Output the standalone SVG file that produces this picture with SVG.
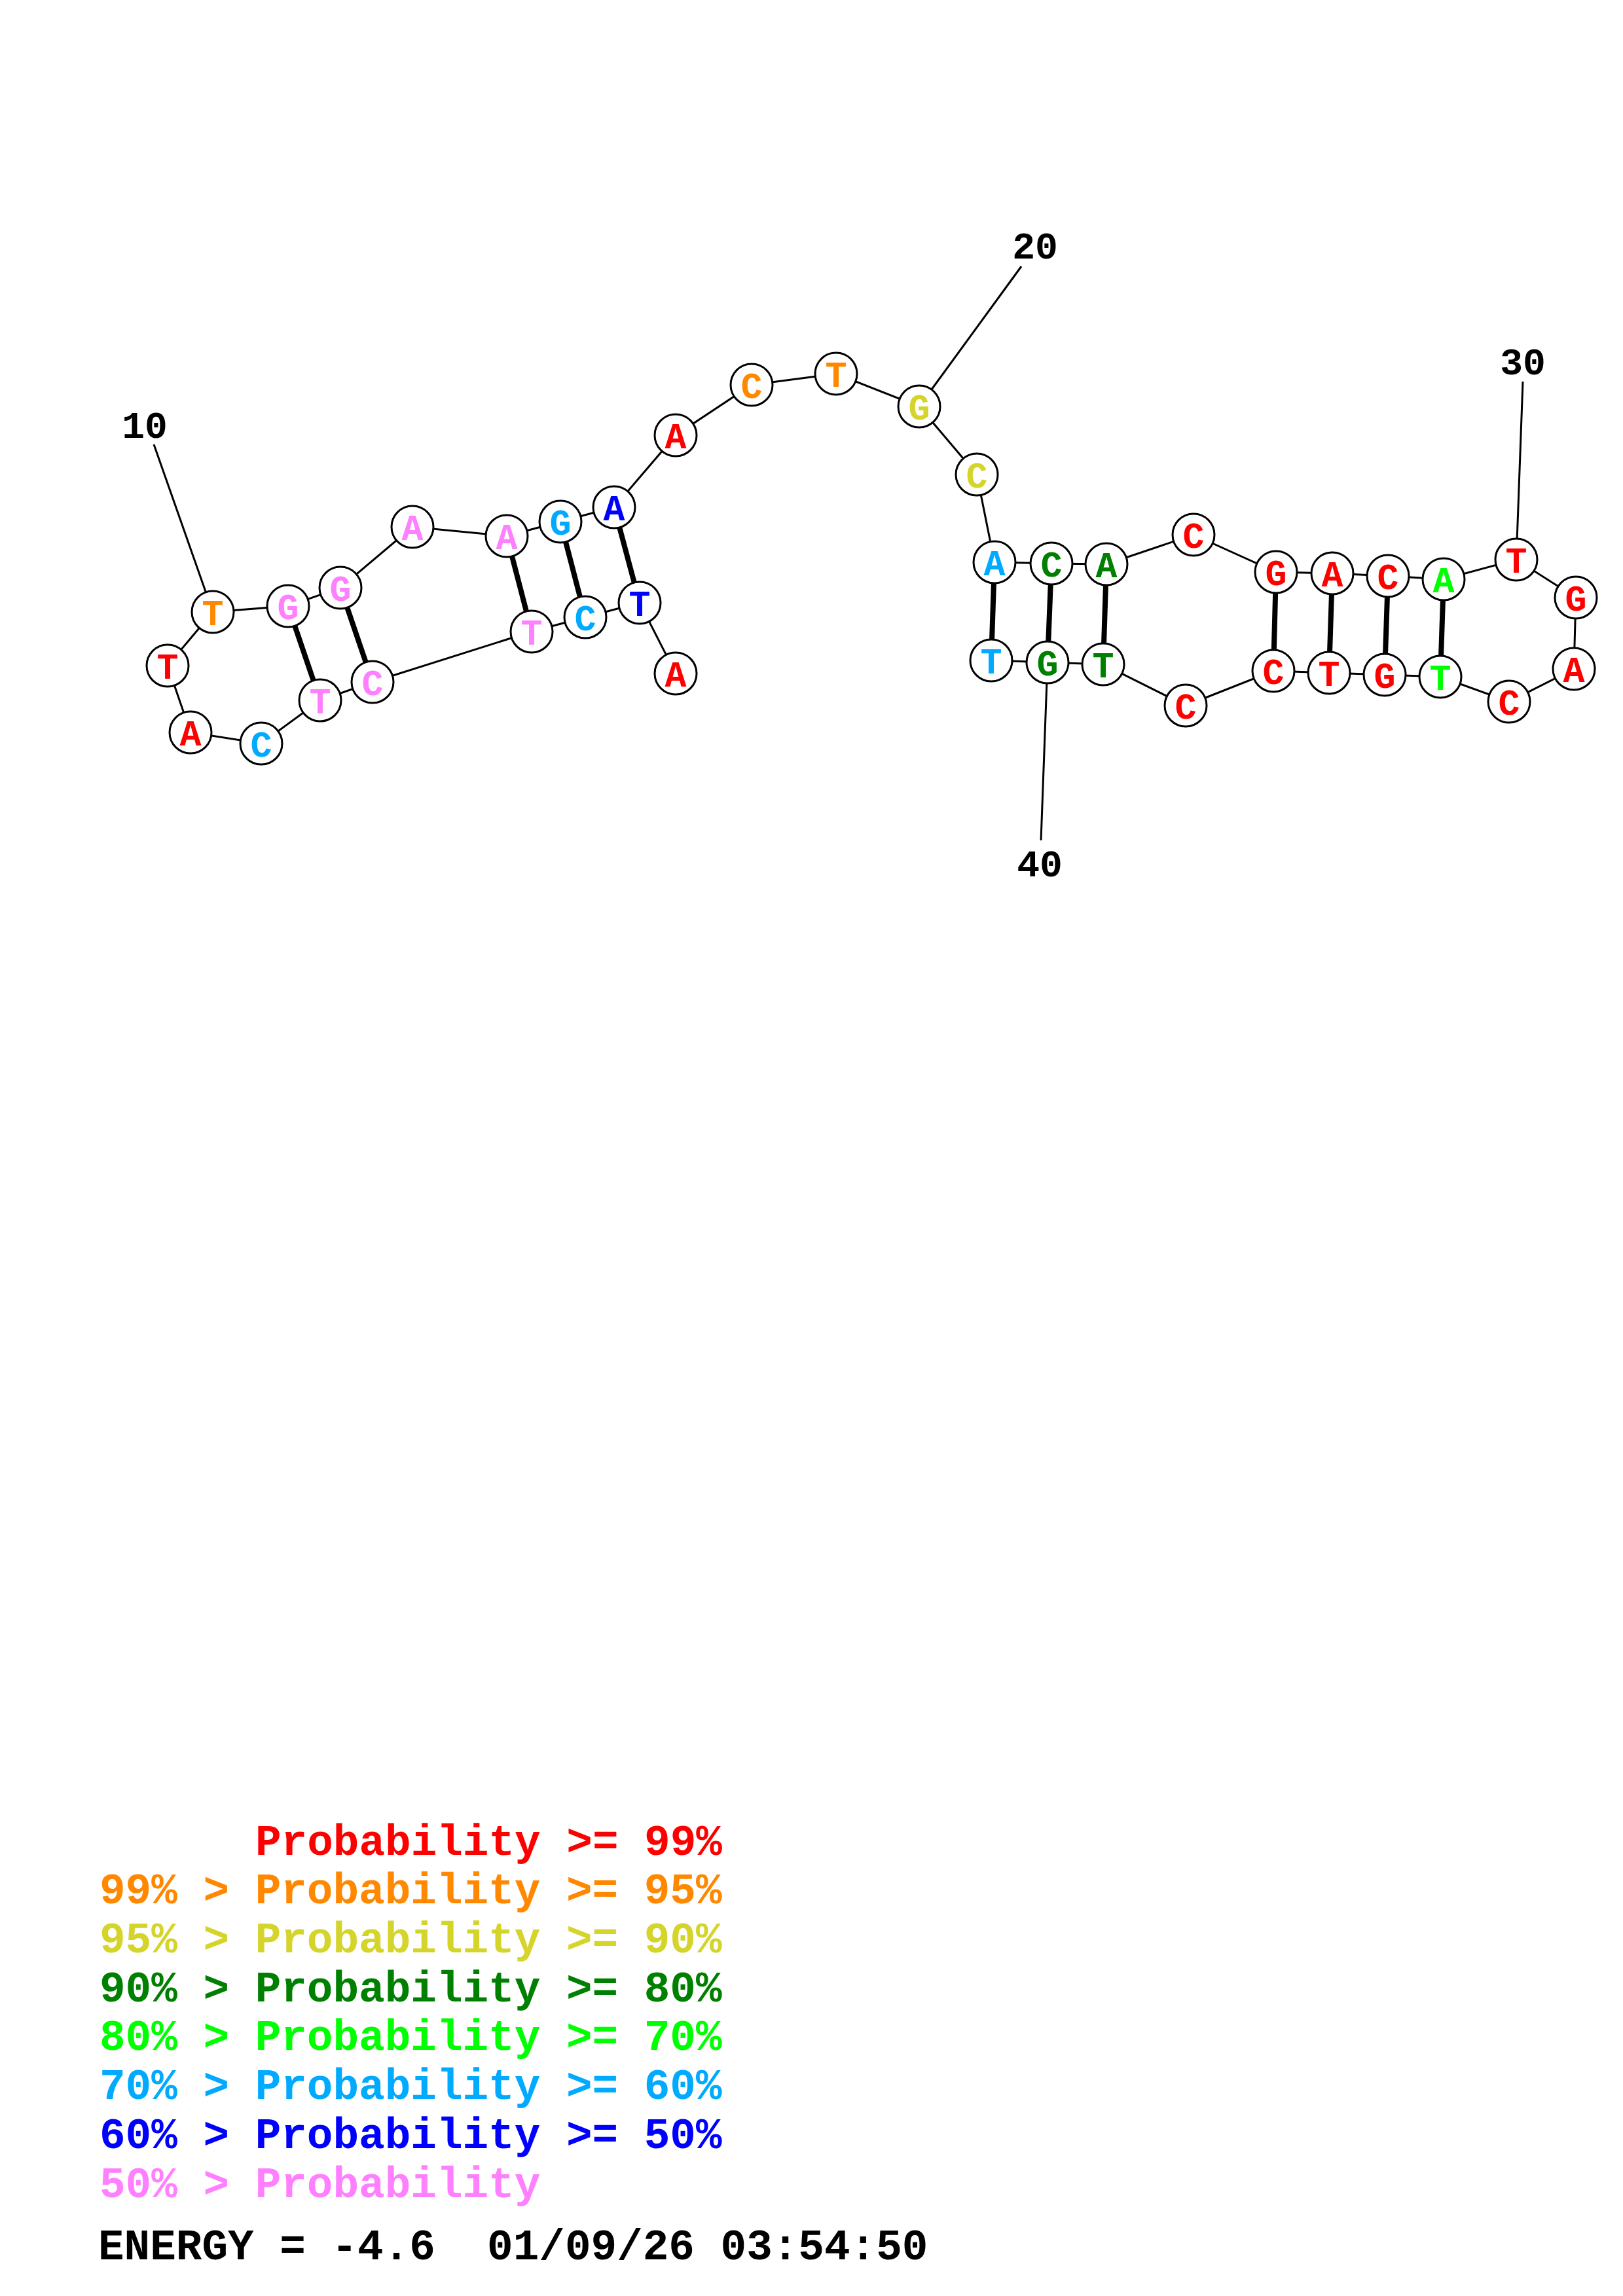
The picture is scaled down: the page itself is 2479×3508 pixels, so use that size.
<svg xmlns="http://www.w3.org/2000/svg" width="2479" height="3508" viewBox="0 0 2479 3508">
<style>
.bb{stroke:#000;stroke-width:3;fill:none}
.bp{stroke:#000;stroke-width:8;fill:none}
.nc{fill:#fff;stroke:#000;stroke-width:3}
.nt{font-family:"Liberation Mono","DejaVu Sans Mono",monospace;font-weight:bold;font-size:55px;text-anchor:middle}
.lb{font-family:"Liberation Mono","DejaVu Sans Mono",monospace;font-weight:bold;font-size:58px;text-anchor:middle;fill:#000}
.lg{font-family:"Liberation Mono","DejaVu Sans Mono",monospace;font-weight:bold;font-size:66px}
.r{fill:#ff0000}.o{fill:#ff8800}.y{fill:#d4d42a}.g{fill:#008000}.l{fill:#00ff00}.c{fill:#00aaff}.b{fill:#0000ff}.p{fill:#ff80ff}.k{fill:#000}
</style>
<rect width="2479" height="3508" fill="#fff"/>
<g id="connectors">
<polyline class="bb" points="1032,1029 977,921 894,943 812,965 569,1042 489,1070 399,1136 291,1119 256,1017 325,935 440,926 520,898 630,805 774,819 856,797 938,775 1032,665 1148,588 1277,571 1404,621 1492,725 1519,859 1606,861 1690,862 1823,817 1949,874 2035,876 2120,880 2205,885 2316,855 2407,913 2404,1022 2305,1072 2200,1034 2115,1031 2030,1028 1945,1025 1811,1078 1685,1015 1600,1012 1514,1009"/>
<line class="bp" x1="977" y1="921" x2="938" y2="775"/>
<line class="bp" x1="894" y1="943" x2="856" y2="797"/>
<line class="bp" x1="812" y1="965" x2="774" y2="819"/>
<line class="bp" x1="569" y1="1042" x2="520" y2="898"/>
<line class="bp" x1="489" y1="1070" x2="440" y2="926"/>
<line class="bp" x1="1519" y1="859" x2="1514" y2="1009"/>
<line class="bp" x1="1606" y1="861" x2="1600" y2="1012"/>
<line class="bp" x1="1690" y1="862" x2="1685" y2="1015"/>
<line class="bp" x1="1949" y1="874" x2="1945" y2="1025"/>
<line class="bp" x1="2035" y1="876" x2="2030" y2="1028"/>
<line class="bp" x1="2120" y1="880" x2="2115" y2="1031"/>
<line class="bp" x1="2205" y1="885" x2="2200" y2="1034"/>
<line class="bb" x1="235" y1="679" x2="325" y2="935"/>
<line class="bb" x1="1560" y1="407" x2="1404" y2="621"/>
<line class="bb" x1="2326" y1="583" x2="2316" y2="855"/>
<line class="bb" x1="1590" y1="1284" x2="1600" y2="1012"/>
</g>
<g id="n1"><circle class="nc" cx="1032" cy="1029" r="32"/><text class="nt r" x="1032" y="1049">A</text></g>
<g id="n2"><circle class="nc" cx="977" cy="921" r="32"/><text class="nt b" x="977" y="941">T</text></g>
<g id="n3"><circle class="nc" cx="894" cy="943" r="32"/><text class="nt c" x="894" y="963">C</text></g>
<g id="n4"><circle class="nc" cx="812" cy="965" r="32"/><text class="nt p" x="812" y="985">T</text></g>
<g id="n5"><circle class="nc" cx="569" cy="1042" r="32"/><text class="nt p" x="569" y="1062">C</text></g>
<g id="n6"><circle class="nc" cx="489" cy="1070" r="32"/><text class="nt p" x="489" y="1090">T</text></g>
<g id="n7"><circle class="nc" cx="399" cy="1136" r="32"/><text class="nt c" x="399" y="1156">C</text></g>
<g id="n8"><circle class="nc" cx="291" cy="1119" r="32"/><text class="nt r" x="291" y="1139">A</text></g>
<g id="n9"><circle class="nc" cx="256" cy="1017" r="32"/><text class="nt r" x="256" y="1037">T</text></g>
<g id="n10"><circle class="nc" cx="325" cy="935" r="32"/><text class="nt o" x="325" y="955">T</text></g>
<g id="n11"><circle class="nc" cx="440" cy="926" r="32"/><text class="nt p" x="440" y="946">G</text></g>
<g id="n12"><circle class="nc" cx="520" cy="898" r="32"/><text class="nt p" x="520" y="918">G</text></g>
<g id="n13"><circle class="nc" cx="630" cy="805" r="32"/><text class="nt p" x="630" y="825">A</text></g>
<g id="n14"><circle class="nc" cx="774" cy="819" r="32"/><text class="nt p" x="774" y="839">A</text></g>
<g id="n15"><circle class="nc" cx="856" cy="797" r="32"/><text class="nt c" x="856" y="817">G</text></g>
<g id="n16"><circle class="nc" cx="938" cy="775" r="32"/><text class="nt b" x="938" y="795">A</text></g>
<g id="n17"><circle class="nc" cx="1032" cy="665" r="32"/><text class="nt r" x="1032" y="685">A</text></g>
<g id="n18"><circle class="nc" cx="1148" cy="588" r="32"/><text class="nt o" x="1148" y="608">C</text></g>
<g id="n19"><circle class="nc" cx="1277" cy="571" r="32"/><text class="nt o" x="1277" y="591">T</text></g>
<g id="n20"><circle class="nc" cx="1404" cy="621" r="32"/><text class="nt y" x="1404" y="641">G</text></g>
<g id="n21"><circle class="nc" cx="1492" cy="725" r="32"/><text class="nt y" x="1492" y="745">C</text></g>
<g id="n22"><circle class="nc" cx="1519" cy="859" r="32"/><text class="nt c" x="1519" y="879">A</text></g>
<g id="n23"><circle class="nc" cx="1606" cy="861" r="32"/><text class="nt g" x="1606" y="881">C</text></g>
<g id="n24"><circle class="nc" cx="1690" cy="862" r="32"/><text class="nt g" x="1690" y="882">A</text></g>
<g id="n25"><circle class="nc" cx="1823" cy="817" r="32"/><text class="nt r" x="1823" y="837">C</text></g>
<g id="n26"><circle class="nc" cx="1949" cy="874" r="32"/><text class="nt r" x="1949" y="894">G</text></g>
<g id="n27"><circle class="nc" cx="2035" cy="876" r="32"/><text class="nt r" x="2035" y="896">A</text></g>
<g id="n28"><circle class="nc" cx="2120" cy="880" r="32"/><text class="nt r" x="2120" y="900">C</text></g>
<g id="n29"><circle class="nc" cx="2205" cy="885" r="32"/><text class="nt l" x="2205" y="905">A</text></g>
<g id="n30"><circle class="nc" cx="2316" cy="855" r="32"/><text class="nt r" x="2316" y="875">T</text></g>
<g id="n31"><circle class="nc" cx="2407" cy="913" r="32"/><text class="nt r" x="2407" y="933">G</text></g>
<g id="n32"><circle class="nc" cx="2404" cy="1022" r="32"/><text class="nt r" x="2404" y="1042">A</text></g>
<g id="n33"><circle class="nc" cx="2305" cy="1072" r="32"/><text class="nt r" x="2305" y="1092">C</text></g>
<g id="n34"><circle class="nc" cx="2200" cy="1034" r="32"/><text class="nt l" x="2200" y="1054">T</text></g>
<g id="n35"><circle class="nc" cx="2115" cy="1031" r="32"/><text class="nt r" x="2115" y="1051">G</text></g>
<g id="n36"><circle class="nc" cx="2030" cy="1028" r="32"/><text class="nt r" x="2030" y="1048">T</text></g>
<g id="n37"><circle class="nc" cx="1945" cy="1025" r="32"/><text class="nt r" x="1945" y="1045">C</text></g>
<g id="n38"><circle class="nc" cx="1811" cy="1078" r="32"/><text class="nt r" x="1811" y="1098">C</text></g>
<g id="n39"><circle class="nc" cx="1685" cy="1015" r="32"/><text class="nt g" x="1685" y="1035">T</text></g>
<g id="n40"><circle class="nc" cx="1600" cy="1012" r="32"/><text class="nt g" x="1600" y="1032">G</text></g>
<g id="n41"><circle class="nc" cx="1514" cy="1009" r="32"/><text class="nt c" x="1514" y="1029">T</text></g>
<g id="labels">
<text class="lb" x="221" y="669">10</text>
<text class="lb" x="1581" y="395">20</text>
<text class="lb" x="2326" y="572">30</text>
<text class="lb" x="1588" y="1339">40</text>
</g>
<g id="legend">
<text class="lg r" x="390" y="2834">Probability &gt;= 99%</text>
<text class="lg o" x="152" y="2908">99% &gt; Probability &gt;= 95%</text>
<text class="lg y" x="152" y="2983">95% &gt; Probability &gt;= 90%</text>
<text class="lg g" x="152" y="3058">90% &gt; Probability &gt;= 80%</text>
<text class="lg l" x="152" y="3132">80% &gt; Probability &gt;= 70%</text>
<text class="lg c" x="152" y="3207">70% &gt; Probability &gt;= 60%</text>
<text class="lg b" x="152" y="3282">60% &gt; Probability &gt;= 50%</text>
<text class="lg p" x="152" y="3357">50% &gt; Probability</text>
<text class="lg k" x="150" y="3452" xml:space="preserve">ENERGY = -4.6  01/09/26 03:54:50</text>
</g>
</svg>
